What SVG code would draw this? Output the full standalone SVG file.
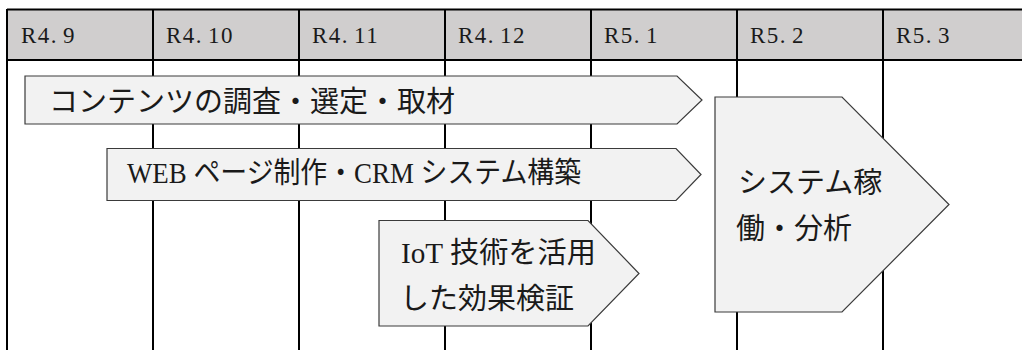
<svg xmlns="http://www.w3.org/2000/svg" width="1022" height="350" viewBox="0 0 1022 350">
<style>
.grid{stroke:#000;stroke-width:2;fill:none}
.hdr{fill:#d0cece}
.ht{font-family:"Liberation Serif",serif;font-size:23px;fill:#1a1a1a;letter-spacing:1.5px}
.box{fill:#f2f2f2;stroke:#3a3a3a;stroke-width:1.2}
.bt{font-family:"Liberation Serif","Noto Sans CJK JP",sans-serif;font-size:29px;fill:#1a1a1a}
</style>
<rect width="1022" height="350" fill="#fff"/>
<g id="table">
<rect class="hdr" x="7" y="9.5" width="1030" height="50.5"/>
<path class="grid" d="M7 9.5H1030M7 60H1030M7 9V350M153 9V350M299 9V350M445 9V350M591 9V350M737 9V350M883 9V350"/>
<text class="ht" x="21" y="43">R4.<tspan dx="5">9</tspan></text>
<text class="ht" x="166" y="43">R4.<tspan dx="5">10</tspan></text>
<text class="ht" x="312" y="43">R4.<tspan dx="5">11</tspan></text>
<text class="ht" x="458" y="43">R4.<tspan dx="5">12</tspan></text>
<text class="ht" x="604" y="43">R5.<tspan dx="5">1</tspan></text>
<text class="ht" x="750" y="43">R5.<tspan dx="5">2</tspan></text>
<text class="ht" x="896" y="43">R5.<tspan dx="5">3</tspan></text>
</g>
<g id="connectors"></g>
<g id="task1">
<path class="box" d="M25 76H677L702 100L677 124H25Z"/>
<text class="bt" x="49" y="112">コンテンツの調査・選定・取材</text>
</g>
<g id="task2">
<path class="box" d="M107 148.5H676L701 174.5L676 200.5H107Z"/>
<text class="bt" x="127" y="183" textLength="454" lengthAdjust="spacingAndGlyphs">WEB ページ制作・CRM システム構築</text>
</g>
<g id="task3">
<path class="box" d="M379 220.5H588L639 273.5L588 326H379Z"/>
<text class="bt" x="401" y="263" textLength="195" lengthAdjust="spacingAndGlyphs">IoT 技術を活用</text>
<text class="bt" x="400" y="309">した効果検証</text>
</g>
<g id="task4">
<path class="box" d="M715 97H842L949 204.5L842 312H715Z"/>
<text class="bt" x="738" y="193">システム稼</text>
<text class="bt" x="736" y="239">働・分析</text>
</g>
</svg>
